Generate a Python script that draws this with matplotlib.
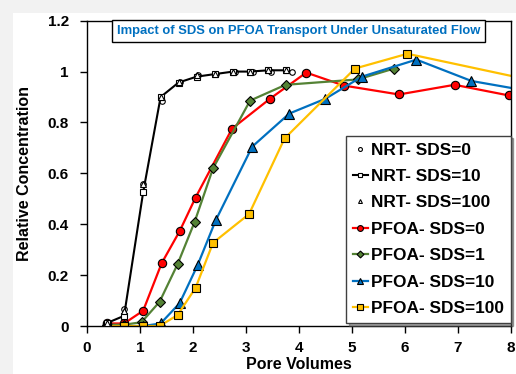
import matplotlib
matplotlib.use("Agg")
import matplotlib.pyplot as plt
from matplotlib.patches import Rectangle

plt.rcParams['font.family'] = ['Liberation Sans', 'DejaVu Sans']
plt.rcParams['font.weight'] = 'bold'

# NRT (tracer) breakthrough
nrt0_x = [0.38, 0.70, 1.06, 1.42, 1.75, 2.09, 2.44, 2.79, 3.14, 3.48, 3.88]
nrt0_y = [0.01, 0.065, 0.56, 0.885, 0.96, 0.985, 0.99, 1.0, 1.0, 1.0, 1.0]
nrt10_x = [0.38, 0.70, 1.06, 1.39, 1.73, 2.07, 2.41, 2.76, 3.08, 3.42, 3.76]
nrt10_y = [0.012, 0.04, 0.525, 0.90, 0.957, 0.98, 0.99, 1.0, 1.0, 1.005, 1.005]
nrt100_x = [0.38, 0.70, 1.06, 1.39, 1.73, 2.07, 2.41, 2.76, 3.08, 3.42, 3.76]
nrt100_y = [0.01, 0.06, 0.56, 0.90, 0.96, 0.985, 0.99, 1.0, 1.0, 1.005, 1.005]

# PFOA breakthrough
pfoa0_x = [0.38, 0.70, 1.06, 1.41, 1.75, 2.05, 2.74, 3.46, 4.14, 4.85, 5.89, 6.94, 7.97]
pfoa0_y = [0.01, 0.01, 0.06, 0.247, 0.373, 0.505, 0.776, 0.894, 0.996, 0.945, 0.91, 0.948, 0.906]
pfoa1_x = [0.38, 0.70, 1.03, 1.37, 1.71, 2.03, 2.38, 3.08, 3.75, 5.11, 5.80]
pfoa1_y = [0.005, 0.005, 0.015, 0.095, 0.243, 0.408, 0.62, 0.886, 0.948, 0.969, 1.012]
pfoa10_x = [0.38, 0.70, 1.06, 1.39, 1.75, 2.09, 2.43, 3.12, 3.82, 4.50, 5.19, 6.22, 7.26, 8.30]
pfoa10_y = [0.0, 0.0, 0.0, 0.01, 0.09, 0.24, 0.415, 0.705, 0.835, 0.893, 0.98, 1.047, 0.963, 0.925]
pfoa100_x = [0.38, 0.70, 1.05, 1.37, 1.71, 2.05, 2.38, 3.06, 3.73, 5.06, 6.05, 8.30]
pfoa100_y = [0.0, 0.0, 0.0, 0.0, 0.043, 0.15, 0.327, 0.44, 0.737, 1.012, 1.07, 0.97]

x_ticks = list(range(0, 9))
y_ticks = [0, 0.2, 0.4, 0.6, 0.8, 1.0, 1.2]
y_tick_labels = ['0', '0.2', '0.4', '0.6', '0.8', '1', '1.2']

fig = plt.figure(figsize=(5.16, 3.74), dpi=100, facecolor='#f2f2f2')
# white chart area, with a grey margin on the left and top
fig.patches.append(Rectangle((13 / 516, 0), 1, 1 - 13 / 374, transform=fig.transFigure,
                             facecolor='white', edgecolor='none', zorder=-10))
ax = fig.add_axes([0.1686, 0.1283, 0.8211, 0.8164])

ax.plot(nrt0_x, nrt0_y, ls='none', marker='o', ms=4, mfc='white', mec='black', mew=0.8,
        label='NRT- SDS=0', zorder=3)
ax.plot(nrt10_x, nrt10_y, color='black', lw=1.5, marker='s', ms=4, mfc='white', mec='black',
        mew=0.8, label='NRT- SDS=10', zorder=3)
ax.plot(nrt100_x, nrt100_y, ls='none', marker='^', ms=4, mfc='white', mec='black', mew=0.8,
        label='NRT- SDS=100', zorder=3)
ax.plot(pfoa0_x, pfoa0_y, color='#ff0000', lw=1.6, marker='o', ms=6, mfc='#ff0000', mec='black',
        mew=0.8, label='PFOA- SDS=0', zorder=2)
ax.plot(pfoa1_x, pfoa1_y, color='#548235', lw=1.6, marker='D', ms=5, mfc='#548235', mec='black',
        mew=0.8, label='PFOA- SDS=1', zorder=2)
ax.plot(pfoa10_x, pfoa10_y, color='#0070c0', lw=1.6, marker='^', ms=6.5, mfc='#0070c0', mec='black',
        mew=0.8, label='PFOA- SDS=10', zorder=2)
ax.plot(pfoa100_x, pfoa100_y, color='#ffc000', lw=1.6, marker='s', ms=6, mfc='#ffc000', mec='black',
        mew=0.8, label='PFOA- SDS=100', zorder=2)

ax.set_xlim(0, 8)
ax.set_ylim(0, 1.2)
ax.set_xticks(x_ticks, [str(v) for v in x_ticks], fontsize=11, fontweight='bold')
ax.set_yticks(y_ticks, y_tick_labels, fontsize=11, fontweight='bold')
ax.tick_params(direction='out', length=5, width=1)
ax.tick_params(axis='x', pad=6)
ax.tick_params(axis='y', pad=8)
for s in ax.spines.values():
    s.set_linewidth(1)
ax.set_xlabel('Pore Volumes', fontsize=11.5, fontweight='bold', labelpad=1)
ax.set_ylabel('Relative Concentration', fontsize=11.5, fontweight='bold', labelpad=11)

leg = ax.legend(loc='lower right', bbox_to_anchor=(1.0, 0.01), fontsize=12.4, handlelength=0.9,
                handletextpad=0.15, labelspacing=0.66, borderpad=0.4, borderaxespad=0.0,
                markerscale=0.7, fancybox=False, shadow=True, framealpha=1)
leg.get_frame().set_edgecolor('#404040')
leg.get_frame().set_linewidth(1)
for t in leg.get_texts():
    t.set_fontweight('bold')

ax.text(0.5, 0.965, 'Impact of SDS on PFOA Transport Under Unsaturated Flow', transform=ax.transAxes,
        ha='center', va='center', fontsize=9.4, fontweight='bold', color='#0070c0',
        bbox=dict(boxstyle='square,pad=0.38', facecolor='white', edgecolor='black', lw=1))

fig.savefig('out.png', dpi=100, facecolor=fig.get_facecolor())
